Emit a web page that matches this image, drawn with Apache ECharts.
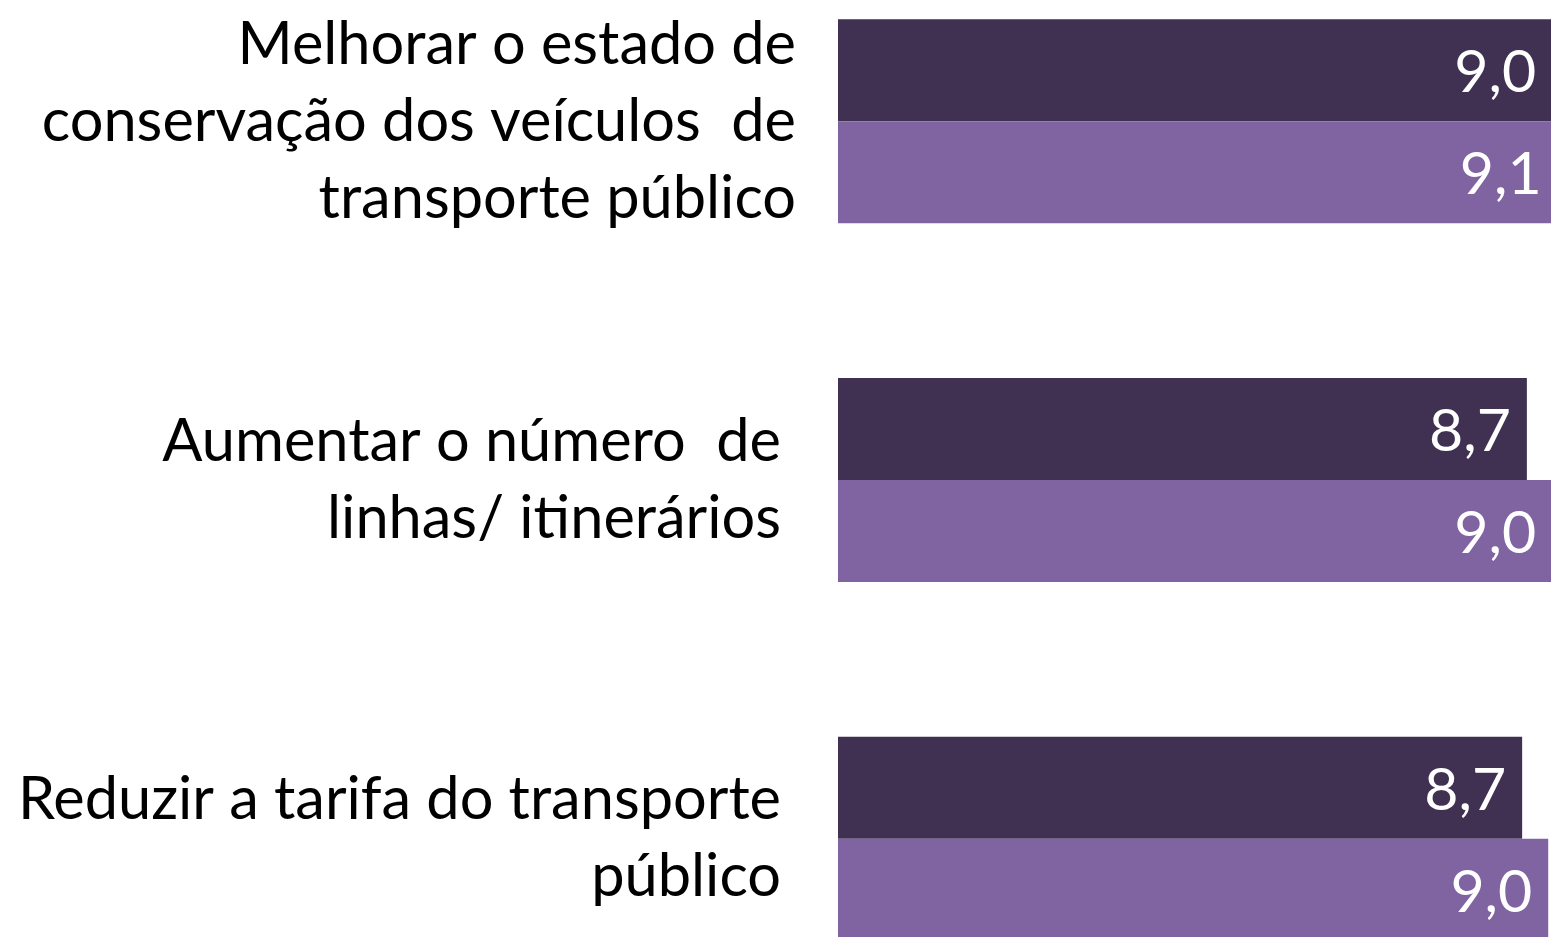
<!DOCTYPE html>
<html>
<head>
<meta charset="utf-8">
<script src="https://cdn.jsdelivr.net/npm/echarts@6/dist/echarts.min.js"></script>
<style>
  html, body { margin: 0; padding: 0; background: #fff; width: 1551px; height: 937px; overflow: hidden; position: relative; }
  /* o gráfico original é cortado nas bordas direita e inferior */
  #main { position: absolute; left: 0; top: -58px; width: 1628px; height: 1076px; }
</style>
</head>
<body>
<div id="main"></div>
<script>
// categorias (de cima para baixo)
var categorias = [
  'Melhorar o estado de\nconservação dos veículos  de\ntransporte público',
  'Aumentar o número  de\nlinhas/ itinerários',
  'Reduzir a tarifa do transporte\npúblico'
];

// valores
var serieEscura = [9.04, 8.72, 8.66];
var serieClara = [9.11, 9.04, 8.99];

var cores = ['#403152', '#8064A2'];

// rótulos das categorias 2 e 3 ficam um pouco mais à esquerda
var dadosEixo = categorias.map(function (c, i) {
  if (i === 0) return c;
  return { value: c, textStyle: { padding: [0, 15, 0, 0] } };
});

var rotulo = {
  show: true,
  position: 'insideRight',
  distance: 16,
  offset: [0, 3],
  color: '#fff',
  fontFamily: 'Lato',
  fontSize: 59,
  formatter: function (p) {
    return p.value.toFixed(1).replace('.', ',');
  }
};

var chartDom = document.getElementById('main');
var myChart = echarts.init(chartDom);

var option = {
  animation: false,
  grid: {
    left: 838,
    width: 790,
    top: 0,
    height: 1076
  },
  xAxis: {
    type: 'value',
    min: 0,
    max: 10,
    show: false
  },
  yAxis: {
    type: 'category',
    inverse: true,
    data: dadosEixo,
    axisLine: { show: false },
    axisTick: { show: false },
    splitLine: { show: false },
    axisLabel: {
      color: '#000',
      fontFamily: 'Lato',
      fontSize: 59.5,
      lineHeight: 77,
      margin: 42,
      align: 'right'
    }
  },
  series: [
    {
      name: 'escura',
      type: 'bar',
      barWidth: 102,
      barGap: 0,
      itemStyle: { color: cores[0] },
      label: rotulo,
      data: serieEscura
    },
    {
      name: 'clara',
      type: 'bar',
      barWidth: 102,
      barGap: 0,
      itemStyle: { color: cores[1] },
      label: rotulo,
      data: serieClara
    }
  ]
};

myChart.setOption(option);
</script>
</body>
</html>
